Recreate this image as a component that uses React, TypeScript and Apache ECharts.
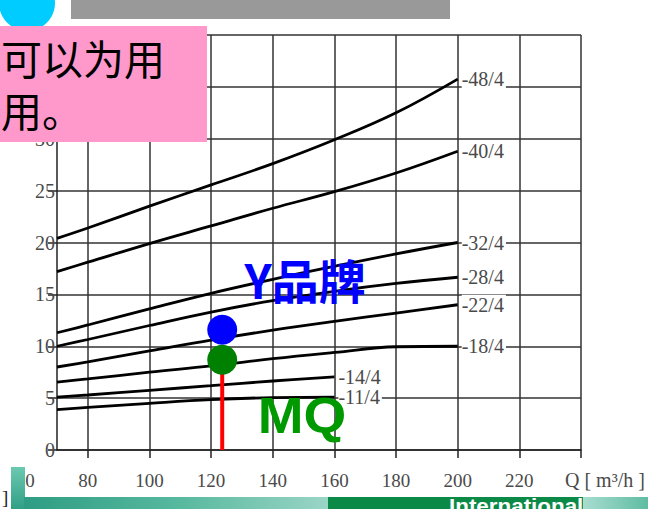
import { useEffect, useRef } from 'react';
import * as echarts from 'echarts';

// x axis (flow Q, m³/h)
const xGridValues = [80, 100, 120, 140, 160, 180, 200, 220, 240];
const xLabelValues = [80, 100, 120, 140, 160, 180, 200, 220];
const xHiddenLabel = 60;
const xAxisName = 'Q [ m³/h ]';
// y axis (head)
const yMin = 0;
const yMax = 40;
const yStep = 5;
const yLabelHiddenAbove = 30; // labels above this sit under the pink note box

// curve sample points
const flowLong = [70, 80, 100, 120, 140, 160, 180, 200];
const flowShort = [70, 80, 100, 120, 140, 160];

const head48 = [20.4, 21.4, 23.5, 25.55, 27.6, 29.9, 32.5, 35.75];
const head40 = [17.2, 18.1, 19.9, 21.6, 23.3, 24.9, 26.7, 28.8];
const head32 = [11.3, 12.05, 13.6, 15.1, 16.45, 17.7, 18.9, 20.0];
const head28 = [10.0, 10.65, 12.0, 13.3, 14.4, 15.3, 16.05, 16.65];
const head22 = [8.0, 8.5, 9.55, 10.6, 11.55, 12.4, 13.2, 14.0];
const head18 = [6.55, 6.85, 7.5, 8.1, 8.8, 9.4, 9.95, 10.0];
const head14 = [5.1, 5.3, 5.75, 6.2, 6.65, 7.05];
const head11 = [3.9, 4.1, 4.5, 4.85, 5.05, 5.1];

const curveNames = ['-48/4', '-40/4', '-32/4', '-28/4', '-22/4', '-18/4', '-14/4', '-11/4'];
const curveHeads = [head48, head40, head32, head28, head22, head18, head14, head11];
const curveFlows = [flowLong, flowLong, flowLong, flowLong, flowLong, flowLong, flowShort, flowShort];

// operating point markers
const markerFlow = 123.6;
const brandYHead = 11.6;
const mqHead = 8.7;

const labelColor = '#4a4a4a';
const gridColor = '#333333';

export default function App() {
  const ref = useRef<HTMLDivElement>(null);

  useEffect(() => {
    if (!ref.current) return;
    const chart = echarts.init(ref.current, null, { renderer: 'svg' });

    const curveSeries = curveNames.map((name, i) => ({
      name,
      type: 'line',
      data: curveFlows[i].map((q, j) => [q, curveHeads[i][j]]),
      smooth: 0.4,
      symbol: 'none',
      z: 3,
      lineStyle: { color: '#000', width: 2.8 },
      endLabel: {
        show: true,
        formatter: name,
        fontFamily: 'Liberation Serif',
        fontSize: 20,
        color: labelColor,
        backgroundColor: '#ffffff',
        padding: [0, 2, 0, 0],
        distance: 4,
      },
    }));

    chart.setOption({
      animation: false,
      backgroundColor: '#ffffff',
      grid: { left: 57, right: 67, top: 35, bottom: 59 },
      xAxis: {
        type: 'value',
        min: 70,
        max: 240,
        interval: 10,
        axisLine: { show: true, lineStyle: { color: '#222', width: 1.5 } },
        axisTick: { show: true, customValues: xGridValues, length: 8, lineStyle: { color: '#222', width: 1.5 } },
        axisLabel: {
          customValues: xLabelValues,
          fontFamily: 'Liberation Serif',
          fontSize: 19,
          color: labelColor,
          margin: 21,
        },
        splitLine: { show: true, lineStyle: { color: gridColor, width: 1.5 } },
        name: xAxisName,
        nameLocation: 'end',
        nameGap: -16,
        nameTextStyle: {
          fontFamily: 'Liberation Serif',
          fontSize: 20,
          color: labelColor,
          align: 'left',
          verticalAlign: 'top',
          padding: [20, 0, 0, 0],
        },
      },
      yAxis: {
        type: 'value',
        min: yMin,
        max: yMax,
        interval: yStep,
        axisLine: { show: true, lineStyle: { color: '#222', width: 1.5 } },
        axisTick: { show: true, length: 9, lineStyle: { color: '#222', width: 1.5 } },
        axisLabel: {
          fontFamily: 'Liberation Serif',
          fontSize: 20,
          color: labelColor,
          margin: 2,
          formatter: (v: number) => (v > yLabelHiddenAbove ? '' : String(v)),
        },
        splitLine: { show: true, lineStyle: { color: gridColor, width: 1.5 } },
      },
      series: [
        ...curveSeries,
        {
          type: 'line',
          data: [[markerFlow, 0], [markerFlow, mqHead]],
          symbol: 'none',
          z: 4,
          lineStyle: { color: '#ff0000', width: 4 },
        },
        {
          type: 'scatter',
          data: [[markerFlow, brandYHead]],
          symbolSize: 30,
          z: 5,
          itemStyle: { color: '#0000ff', opacity: 1 },
        },
        {
          type: 'scatter',
          data: [[markerFlow, mqHead]],
          symbolSize: 30,
          z: 5,
          itemStyle: { color: '#008000', opacity: 1 },
        },
      ],
    });

    const x60 = chart.convertToPixel({ xAxisIndex: 0 }, xHiddenLabel) as number;

    chart.setOption({
      graphic: [
        // "60" tick label (mostly covered by slide decoration)
        {
          type: 'text', z: 50, x: x60 - 1, y: 471,
          style: { text: String(xHiddenLabel), fontFamily: 'Liberation Serif', fontSize: 19, fill: labelColor, align: 'center', verticalAlign: 'top' },
        },
        // slide header bar
        { type: 'rect', z: 100, shape: { x: 71, y: 0, width: 379, height: 19 }, style: { fill: '#999999' } },
        { type: 'circle', z: 100, shape: { cx: 27, cy: 3, r: 28 }, style: { fill: '#00ccff' } },
        // pink note box
        { type: 'rect', z: 101, shape: { x: 0, y: 26, width: 207, height: 116 }, style: { fill: '#ff99cc' } },
        {
          type: 'text', z: 102, x: 1, y: 57,
          style: { text: '可以为用', fontFamily: 'Noto Sans CJK SC', fontSize: 41, fill: '#000', verticalAlign: 'middle' },
        },
        {
          type: 'text', z: 102, x: 1, y: 109,
          style: { text: '用。', fontFamily: 'Noto Sans CJK SC', fontSize: 41, fill: '#000', verticalAlign: 'middle' },
        },
        // brand annotations
        {
          type: 'text', z: 110, x: 305, y: 278,
          style: { text: 'Y品牌', fontFamily: 'Noto Sans CJK SC', fontWeight: 'bold', fontSize: 47, fill: '#0000ff', align: 'center', verticalAlign: 'middle' },
        },
        {
          type: 'text', z: 110, x: 302, y: 415, scaleX: 1.1,
          style: { text: 'MQ', fontFamily: 'Liberation Sans', fontWeight: 'bold', fontSize: 50, fill: '#009900', align: 'center', verticalAlign: 'middle' },
        },
        // bottom slide decoration
        {
          type: 'rect', z: 100, shape: { x: 11, y: 467, width: 14, height: 42 },
          style: { fill: new echarts.graphic.LinearGradient(0, 0, 0, 1, [{ offset: 0, color: '#6cc9b1' }, { offset: 1, color: '#2f9f85' }]) },
        },
        {
          type: 'rect', z: 100, shape: { x: 24, y: 497, width: 304, height: 12 },
          style: { fill: new echarts.graphic.LinearGradient(0, 0, 1, 0, [{ offset: 0, color: '#2e9d83' }, { offset: 0.5, color: '#56b89e' }, { offset: 1, color: '#9ad5c6' }]) },
        },
        { type: 'rect', z: 100, shape: { x: 328, y: 497, width: 255, height: 12 }, style: { fill: '#0b8a47' } },
        {
          type: 'rect', z: 100, shape: { x: 583, y: 497, width: 65, height: 12 },
          style: { fill: new echarts.graphic.LinearGradient(0, 0, 1, 0, [{ offset: 0, color: '#a8ddd0' }, { offset: 1, color: '#5fbca3' }]) },
        },
        {
          type: 'text', z: 101, x: 449, y: 496, scaleX: 1.12,
          style: { text: 'International', fontFamily: 'Liberation Sans', fontWeight: 'bold', fontSize: 20, fill: '#ffffff', verticalAlign: 'top' },
        },
        {
          type: 'text', z: 101, x: 2, y: 497,
          style: { text: ']', fontFamily: 'Liberation Serif', fontSize: 19, fill: '#222', verticalAlign: 'middle' },
        },
      ],
    });

    return () => chart.dispose();
  }, []);

  return (
    <div
      ref={ref}
      style={{ position: 'fixed', left: 0, top: 0, width: 648, height: 509, background: '#fff' }}
    />
  );
}
